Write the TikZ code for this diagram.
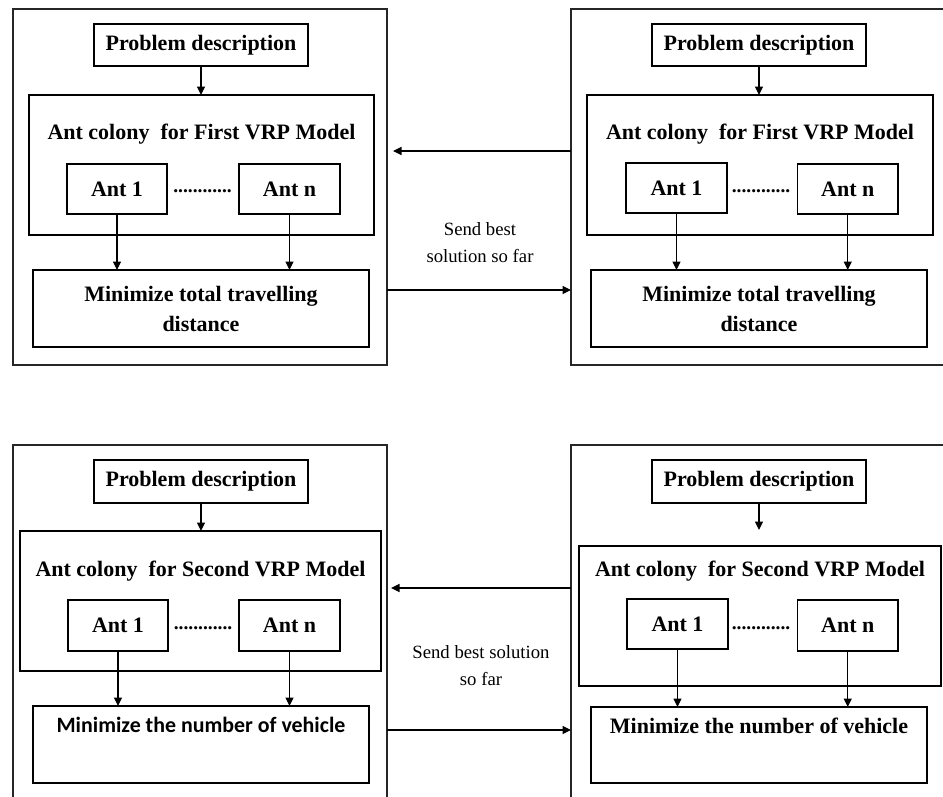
\documentclass[tikz,border=0pt]{standalone}
\usepackage{fontspec}
\setmainfont{Liberation Serif}
\newfontfamily\calib{Carlito}
\usetikzlibrary{arrows.meta}
\tikzset{
  panel/.style={draw=black!85, line width=1.1pt, inner sep=0pt, outer sep=0pt},
  frame/.style={draw, line width=1.1pt, inner sep=0pt, outer sep=0pt},
  box/.style={draw, line width=1.1pt, inner sep=0pt, outer sep=0pt, align=center,
    font=\bfseries\fontsize{22}{30}\selectfont},
  ttl/.style={inner sep=0pt, font=\bfseries\fontsize{22}{30}\selectfont},
  dotsty/.style={inner sep=0pt, anchor=base, font=\bfseries\fontsize{19.5}{20}\selectfont},
  lbl/.style={align=center, inner sep=0pt, font=\fontsize{18.7}{27}\selectfont},
  arr/.style={-{Triangle[length=8.5pt,width=8pt]}, line width=1.1pt},
}
\begin{document}
\begin{tikzpicture}[x=1pt,y=-1pt]
\useasboundingbox (0,0) rectangle (943,796);
\clip (0,0) rectangle (943,796);

% ---------- outer panels ----------
\node[panel, minimum width=374pt, minimum height=356pt] (p1) at (200,187) {};
\node[panel, minimum width=389pt, minimum height=356pt] (p2) at (765.5,187) {};
\node[panel, minimum width=374pt, minimum height=375pt] (p3) at (200,632.5) {};
\node[panel, minimum width=389pt, minimum height=375pt] (p4) at (765.5,632.5) {};

% ---------- top left ----------
\node[box, minimum width=214pt, minimum height=42pt] (pd1) at (201,45) {Problem description};
\node[frame, minimum width=345pt, minimum height=140pt] (col1) at (201.5,165) {};
\node[ttl] (t1) at (201.5,134) {Ant colony~ for First VRP Model};
\node[box, minimum width=100pt, minimum height=50pt] (a11) at (117,189) {Ant 1};
\node[box, minimum width=101pt, minimum height=50pt] (a1n) at (289.5,189) {Ant n};
\node[dotsty] (d1) at (202.5,192.5) {............};
\node[box, minimum width=336pt, minimum height=77pt] (m1) at (201,308.5) {Minimize total travelling\\distance};
\draw[arr] (pd1.south) -- (pd1.south |- col1.north);
\draw[arr] (a11.south) -- (a11.south |- m1.north);
\draw[arr] (a1n.south) -- (a1n.south |- m1.north);

% ---------- top right ----------
\node[box, minimum width=214pt, minimum height=42pt] (pd2) at (759,45) {Problem description};
\node[frame, minimum width=346pt, minimum height=140pt] (col2) at (760,165) {};
\node[ttl] (t2) at (760,134) {Ant colony~ for First VRP Model};
\node[box, minimum width=101pt, minimum height=50pt] (a21) at (676.5,188) {Ant 1};
\node[box, minimum width=100.5pt, minimum height=50pt] (a2n) at (847.75,189) {Ant n};
\node[dotsty] (d2) at (761,192.5) {............};
\node[box, minimum width=336pt, minimum height=77pt] (m2) at (759,308.5) {Minimize total travelling\\distance};
\draw[arr] (pd2.south) -- (pd2.south |- col2.north);
\draw[arr] (a21.south) -- (a21.south |- m2.north);
\draw[arr] (a2n.south) -- (a2n.south |- m2.north);

% ---------- top middle ----------
\draw[arr] (p2.west |- 0,151) -- ([xshift=6pt]p1.east |- 0,151);
\draw[arr] (p1.east |- 0,290) -- (p2.west |- 0,290);
\node[lbl] (s1) at (480,243) {Send best\\solution so far};

% ---------- bottom left ----------
\node[box, minimum width=214pt, minimum height=43pt] (pd3) at (201,481.5) {Problem description};
\node[frame, minimum width=361pt, minimum height=140pt] (col3) at (200.5,601) {};
\node[ttl] (t3) at (200.5,571) {Ant colony~ for Second VRP Model};
\node[box, minimum width=100pt, minimum height=51pt] (a31) at (118,625.5) {Ant 1};
\node[box, minimum width=101pt, minimum height=51pt] (a3n) at (289.5,625.5) {Ant n};
\node[dotsty] (d3) at (203,629) {............};
\node[box, minimum width=336pt, minimum height=77pt, font=\calib\bfseries\fontsize{21.9}{30}\selectfont] (m3) at (201,744.5) {Minimize the number of vehicle\\\strut};
\draw[arr] (pd3.south) -- (pd3.south |- col3.north);
\draw[arr] (a31.south) -- (a31.south |- m3.north);
\draw[arr] (a3n.south) -- (a3n.south |- m3.north);

% ---------- bottom right ----------
\node[box, minimum width=214pt, minimum height=43pt] (pd4) at (759,481.5) {Problem description};
\node[frame, minimum width=362pt, minimum height=140pt] (col4) at (760,616) {};
\node[ttl] (t4) at (760,571) {Ant colony~ for Second VRP Model};
\node[box, minimum width=101pt, minimum height=50pt] (a41) at (677.5,624) {Ant 1};
\node[box, minimum width=100.5pt, minimum height=51pt] (a4n) at (847.75,625.5) {Ant n};
\node[dotsty] (d4) at (761,629) {............};
\node[box, minimum width=336pt, minimum height=76pt] (m4) at (759,745) {Minimize the number of vehicle\\\strut};
\coordinate (e4) at ([yshift=-27pt]pd4.south);
\draw[arr] (pd4.south) -- (e4);
\draw[arr] (a41.south) -- (a41.south |- m4.north);
\draw[arr] (a4n.south) -- (a4n.south |- m4.north);

% ---------- bottom middle ----------
\draw[arr] (p4.west |- 0,588) -- ([xshift=4pt]p3.east |- 0,588);
\draw[arr] (p3.east |- 0,730) -- (p4.west |- 0,730);
\node[lbl] (s2) at (481,666) {Send best solution\\so far};
\end{tikzpicture}
\end{document}
